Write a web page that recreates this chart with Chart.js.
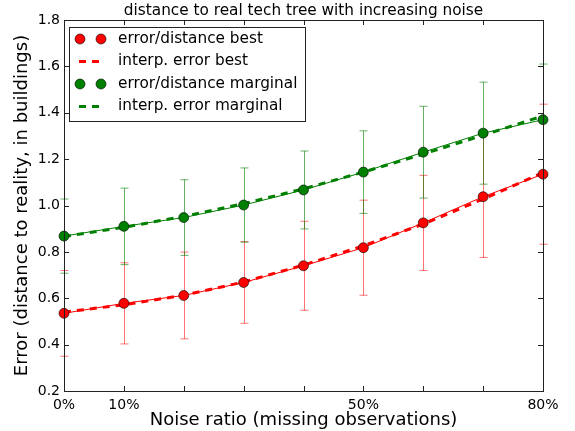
<!DOCTYPE html>
<html>
<head>
<meta charset="utf-8">
<script src="https://cdn.jsdelivr.net/npm/chart.js@4"></script>
<style>
  html, body { margin: 0; padding: 0; background: #fff; }
  #wrap { width: 575px; height: 431px; }
</style>
</head>
<body>
<div id="wrap"><canvas id="noiseChart" width="575" height="431"></canvas></div>
<script>
const noise = [0, 10, 20, 30, 40, 50, 60, 70, 80];
const labeledTicks = [0, 10, 50, 80];

const bestErr = [0.535, 0.578, 0.612, 0.668, 0.740, 0.818, 0.925, 1.038, 1.135];
const bestSpread = [0.185, 0.175, 0.187, 0.176, 0.192, 0.205, 0.205, 0.262, 0.302];
const bestInterp = [0.540, 0.572, 0.613, 0.670, 0.743, 0.826, 0.920, 1.028, 1.142];

const margErr = [0.868, 0.910, 0.948, 1.002, 1.067, 1.144, 1.230, 1.312, 1.370];
const margSpread = [0.160, 0.165, 0.163, 0.160, 0.168, 0.178, 0.198, 0.220, 0.240];
const margInterp = [0.866, 0.906, 0.953, 1.008, 1.072, 1.144, 1.222, 1.303, 1.386];

const RED = '#ff0000';
const GREEN = '#008000';
const FONT = '"DejaVu Sans", sans-serif';

function pts(ys) {
  return noise.map((x, i) => ({ x: x, y: ys[i] }));
}

// error bars drawn under the lines
const errorBars = {
  id: 'errorBars',
  beforeDatasetsDraw(chart) {
    const { ctx, scales: { x, y } } = chart;
    const sets = [
      { vals: bestErr, spread: bestSpread, color: 'rgba(255,0,0,0.55)' },
      { vals: margErr, spread: margSpread, color: 'rgba(0,128,0,0.6)' }
    ];
    ctx.save();
    ctx.lineWidth = 1;
    sets.forEach(s => {
      ctx.strokeStyle = s.color;
      noise.forEach((n, i) => {
        const px = Math.round(x.getPixelForValue(n)) + 0.5;
        const top = y.getPixelForValue(s.vals[i] + s.spread[i]);
        const bot = y.getPixelForValue(s.vals[i] - s.spread[i]);
        ctx.beginPath();
        ctx.moveTo(px, top); ctx.lineTo(px, bot);
        ctx.moveTo(px - 4, top); ctx.lineTo(px + 4, top);
        ctx.moveTo(px - 4, bot); ctx.lineTo(px + 4, bot);
        ctx.stroke();
      });
    });
    ctx.restore();
  }
};

// frame, inward ticks, title and legend box
const frame = {
  id: 'frame',
  afterDraw(chart) {
    const { ctx, chartArea: a, scales: { x, y } } = chart;
    ctx.save();
    ctx.strokeStyle = '#222';
    ctx.lineWidth = 1;
    ctx.beginPath();
    noise.forEach(n => {
      const px = Math.round(x.getPixelForValue(n)) + 0.5;
      ctx.moveTo(px, a.bottom); ctx.lineTo(px, a.bottom - 5);
      ctx.moveTo(px, a.top); ctx.lineTo(px, a.top + 5);
    });
    for (let v = 0.2; v <= 1.81; v += 0.2) {
      const py = Math.round(y.getPixelForValue(v)) + 0.5;
      ctx.moveTo(a.left, py); ctx.lineTo(a.left + 5, py);
      ctx.moveTo(a.right, py); ctx.lineTo(a.right - 5, py);
    }
    ctx.stroke();
    ctx.strokeRect(Math.round(a.left) + 0.5, Math.round(a.top) + 0.5,
      Math.round(a.right - a.left), Math.round(a.bottom - a.top));

    ctx.fillStyle = '#000';
    ctx.font = '15.3px ' + FONT;
    ctx.textAlign = 'center';
    ctx.textBaseline = 'middle';
    ctx.fillText('distance to real tech tree with increasing noise', (a.left + a.right) / 2, 11);

    // legend
    const lx = a.left + 5, ly = a.top + 7;
    ctx.fillStyle = '#fff';
    ctx.fillRect(lx, ly, 236, 94);
    ctx.strokeStyle = '#222';
    ctx.strokeRect(lx + 0.5, ly + 0.5, 236, 94);
    const rows = [
      { label: 'error/distance best', color: RED, dots: true },
      { label: 'interp. error best', color: RED, dots: false },
      { label: 'error/distance marginal', color: GREEN, dots: true },
      { label: 'interp. error marginal', color: GREEN, dots: false }
    ];
    rows.forEach((r, i) => {
      const cy = ly + 12 + i * 22.5;
      if (r.dots) {
        [lx + 11, lx + 32].forEach(cx => {
          ctx.beginPath();
          ctx.arc(cx, cy, 5, 0, Math.PI * 2);
          ctx.fillStyle = r.color;
          ctx.fill();
          ctx.lineWidth = 0.6;
          ctx.strokeStyle = '#000';
          ctx.stroke();
        });
      } else {
        ctx.strokeStyle = r.color;
        ctx.lineWidth = 3;
        ctx.setLineDash([7, 6]);
        ctx.beginPath();
        ctx.moveTo(lx + 10, cy); ctx.lineTo(lx + 30, cy);
        ctx.stroke();
        ctx.setLineDash([]);
      }
      ctx.fillStyle = '#000';
      ctx.font = '15.3px ' + FONT;
      ctx.textAlign = 'left';
      ctx.fillText(r.label, lx + 49, cy);
    });
    ctx.restore();
  }
};

const config = {
  type: 'scatter',
  data: {
    datasets: [
      {
        label: 'error/distance best',
        data: pts(bestErr),
        showLine: true,
        borderColor: RED,
        borderWidth: 1,
        pointRadius: 5,
        pointBackgroundColor: RED,
        pointBorderColor: '#000',
        pointBorderWidth: 0.6,
        order: 1
      },
      {
        label: 'interp. error best',
        data: pts(bestInterp),
        showLine: true,
        borderColor: RED,
        borderWidth: 3,
        borderDash: [7, 6],
        pointRadius: 0,
        order: 2
      },
      {
        label: 'error/distance marginal',
        data: pts(margErr),
        showLine: true,
        borderColor: GREEN,
        borderWidth: 1,
        pointRadius: 5,
        pointBackgroundColor: GREEN,
        pointBorderColor: '#000',
        pointBorderWidth: 0.6,
        order: 1
      },
      {
        label: 'interp. error marginal',
        data: pts(margInterp),
        showLine: true,
        borderColor: GREEN,
        borderWidth: 3,
        borderDash: [7, 6],
        pointRadius: 0,
        order: 2
      }
    ]
  },
  options: {
    responsive: false,
    animation: false,
    clip: false,
    layout: { padding: { top: 20, right: 32, left: 0, bottom: 0 } },
    plugins: {
      legend: { display: false },
      title: { display: false },
      tooltip: { enabled: false }
    },
    scales: {
      x: {
        type: 'linear',
        min: 0,
        max: 80,
        afterFit: s => { s.height = 40; },
        grid: { display: false, drawTicks: false },
        border: { display: false },
        ticks: {
          stepSize: 10,
          padding: 6,
          color: '#000',
          font: { family: FONT, size: 14 },
          maxRotation: 0,
          autoSkip: false,
          callback: v => labeledTicks.includes(v) ? v + '%' : ''
        },
        title: {
          display: true,
          text: 'Noise ratio (missing observations)',
          color: '#000',
          font: { family: FONT, size: 18 },
          padding: { top: 0, bottom: 0 }
        }
      },
      y: {
        min: 0.2,
        max: 1.8,
        afterFit: s => { s.width = 64; },
        grid: { display: false, drawTicks: false },
        border: { display: false },
        ticks: {
          stepSize: 0.2,
          padding: 4,
          color: '#000',
          font: { family: FONT, size: 14 },
          callback: v => v.toFixed(1)
        },
        title: {
          display: true,
          text: 'Error (distance to reality, in buildings)',
          color: '#000',
          font: { family: FONT, size: 18 },
          padding: { top: 12, bottom: 0 }
        }
      }
    }
  },
  plugins: [errorBars, frame]
};

new Chart(document.getElementById('noiseChart').getContext('2d'), config);
</script>
</body>
</html>
